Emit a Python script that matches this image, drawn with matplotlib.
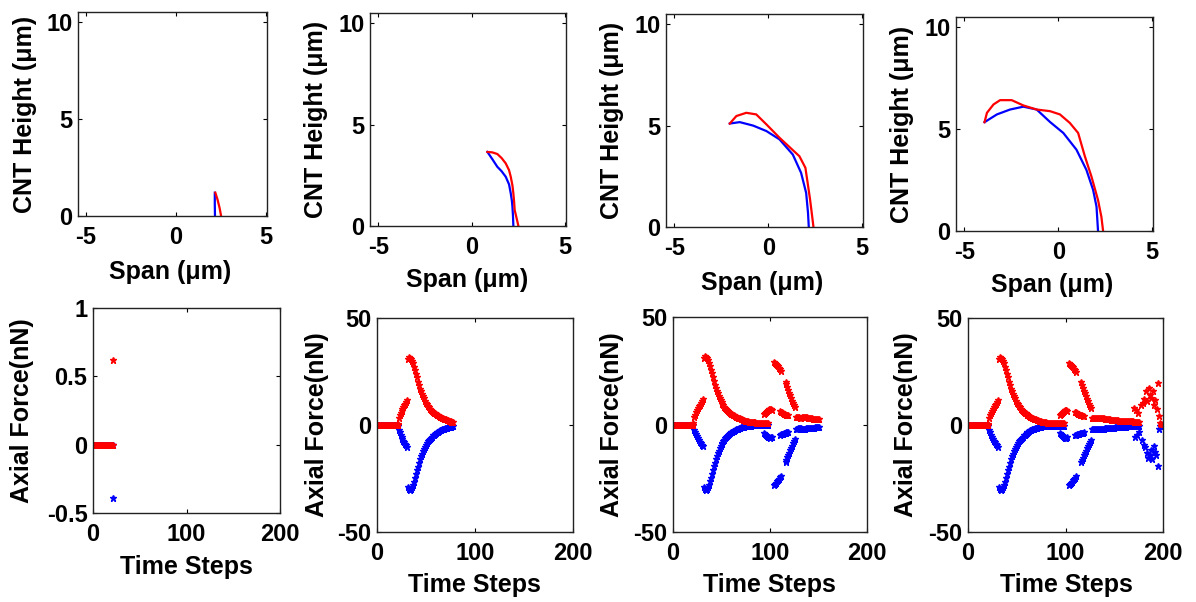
import matplotlib
matplotlib.use("Agg")
import matplotlib.pyplot as plt

plt.rcParams["font.family"] = ["Liberation Sans", "DejaVu Sans"]
plt.rcParams["font.weight"] = "bold"
plt.rcParams["axes.labelweight"] = "bold"
plt.rcParams["axes.unicode_minus"] = False

W, H = 1196, 602

# ---- top row: CNT profile (span, height) at four snapshots ----
span_blue_1 = [2.15, 2.15, 2.16]
height_blue_1 = [1.2, 0.6, 0.0]
span_red_1 = [2.18, 2.3, 2.42, 2.5]
height_red_1 = [1.2, 0.85, 0.4, 0.0]

span_blue_2 = [0.84, 1.1, 1.37, 1.6, 1.82, 2.0, 2.09, 2.15, 2.18, 2.21, 2.23]
height_blue_2 = [3.65, 3.3, 2.92, 2.7, 2.43, 2.05, 1.61, 1.25, 0.95, 0.5, 0.0]
span_red_2 = [0.84, 1.1, 1.37, 1.6, 1.82, 2.0, 2.09, 2.18, 2.23, 2.27, 2.3, 2.4, 2.5]
height_red_2 = [3.65, 3.63, 3.55, 3.35, 3.09, 2.75, 2.43, 2.0, 1.61, 1.2, 0.79, 0.4, 0.0]

span_blue_3 = [-2.05, -1.52, -0.81, -0.1, 0.6, 1.31, 1.75, 2.02, 2.12, 2.16]
height_blue_3 = [5.1, 5.17, 5.0, 4.73, 4.32, 3.57, 2.67, 1.68, 0.69, 0.0]
span_red_3 = [-2.05, -1.7, -1.17, -0.64, -0.1, 0.6, 1.04, 1.66, 1.98, 2.1, 2.23, 2.34, 2.41]
height_red_3 = [5.1, 5.47, 5.63, 5.55, 5.06, 4.4, 4.02, 3.49, 2.92, 2.17, 1.35, 0.53, 0.0]

span_blue_4 = [-3.93, -3.27, -2.57, -1.86, -1.15, -0.44, 0.27, 0.97, 1.5, 1.86, 2.04, 2.12]
height_blue_4 = [5.34, 5.72, 5.96, 6.1, 5.96, 5.35, 4.81, 3.99, 3.0, 2.01, 1.19, 0.0]
span_red_4 = [-3.93, -3.8, -3.45, -3.1, -2.48, -1.86, -1.15, -0.44, 0.09, 0.62, 1.06,
              1.42, 1.77, 2.12, 2.3, 2.39]
height_red_4 = [5.34, 5.8, 6.21, 6.42, 6.42, 6.16, 5.96, 5.88, 5.72, 5.3, 4.81,
                3.66, 2.67, 1.52, 0.69, 0.0]

profiles = [
    (span_blue_1, height_blue_1, span_red_1, height_red_1),
    (span_blue_2, height_blue_2, span_red_2, height_red_2),
    (span_blue_3, height_blue_3, span_red_3, height_red_3),
    (span_blue_4, height_blue_4, span_red_4, height_red_4),
]

# ---- bottom row: axial force vs time step (one history, cut at each snapshot) ----
snapshot_end = [21, 78, 150, 200]

red_steps = (
    list(range(0, 22)) + [21] + list(range(22, 99)) + list(range(94, 103))
    + list(range(104, 112)) + list(range(110, 120)) + list(range(116, 127))
    + list(range(127, 176))
    + [170, 172, 174, 177, 179, 181, 183, 184, 186, 187, 188, 190, 191, 192,
       194, 195, 196, 197, 198, 200]
)
red_force = (
    [0.0] * 22 + [0.62]
    # 22..31
    + [3.5, 4.6, 5.6, 6.6, 7.5, 8.4, 9.2, 10.0, 10.9, 11.8]
    # 32..78
    + [31.0, 31.8, 31.5, 31.0, 30.0, 28.8, 27.2, 25.5, 23.8, 22.2, 20.3, 18.5,
       17.0, 15.7, 14.5, 13.4, 12.4, 11.4, 10.4, 9.6, 8.9, 8.3, 7.7, 7.1, 6.6,
       6.2, 5.8, 5.4, 5.1, 4.8, 4.5, 4.2, 3.9, 3.6, 3.4, 3.2, 3.0, 2.8, 2.6,
       2.4, 2.2, 2.0, 1.8, 1.7, 1.5, 1.4, 1.3]
    # 79..98
    + [1.2, 1.2, 1.1, 1.1, 1.0, 1.0, 1.0, 0.9, 0.9, 0.9, 0.9, 0.8, 0.8, 0.8,
       0.8, 0.8, 0.8, 0.8, 0.8, 0.8]
    # 94..102
    + [4.8, 5.3, 5.8, 6.2, 6.6, 7.0, 7.2, 7.0, 6.6]
    # 104..111
    + [29.0, 28.7, 28.2, 27.6, 27.0, 26.3, 25.6, 24.8]
    # 110..119
    + [6.2, 5.9, 5.6, 5.3, 5.0, 4.8, 4.6, 4.5, 4.4, 4.3]
    # 116..126
    + [20.0, 18.7, 17.4, 16.1, 14.8, 13.5, 12.3, 11.1, 10.0, 9.0, 8.0]
    # 127..175
    + [3.4, 3.4, 3.3, 3.3, 3.2, 3.2, 3.3, 3.4, 3.5, 3.5, 3.4, 3.3, 3.1, 3.0,
       2.9, 2.8, 2.8, 2.7, 2.6, 2.6, 2.5, 2.5, 2.4, 2.4, 2.3, 2.3, 2.2, 2.2,
       2.1, 2.1, 2.0, 2.0, 2.0, 1.9, 1.9, 1.9, 1.8, 1.8, 1.8, 1.7, 1.7, 1.7,
       1.7, 1.6, 1.6, 1.6, 1.6, 1.5, 1.5]
    # scattered end
    + [8.0, 6.8, 5.5, 9.5, 10.5, 12.0, 16.0, 11.0, 17.5, 14.0, 12.5, 15.8, 9.5,
       11.8, 7.5, 19.5, 4.0, 1.0, 0.5, 0.5]
)

blue_steps = (
    list(range(0, 22)) + [21] + list(range(22, 99)) + list(range(94, 103))
    + list(range(104, 112)) + list(range(110, 120)) + list(range(116, 127))
    + list(range(127, 176))
    + [171, 173, 175, 178, 180, 182, 184, 185, 187, 188, 189, 191, 192, 193,
       195, 196, 197, 198, 199, 200]
)
blue_force = (
    [0.0] * 22 + [-0.39]
    # 22..31
    + [-2.5, -3.5, -4.5, -5.5, -6.5, -7.3, -8.0, -8.8, -9.5, -10.2]
    # 32..78
    + [-29.0, -30.0, -30.3, -30.0, -29.2, -28.0, -26.5, -24.8, -23.0, -21.2,
       -19.4, -17.7, -16.1, -14.7, -13.4, -12.2, -11.1, -10.1, -9.2, -8.4,
       -7.7, -7.0, -6.4, -5.9, -5.4, -4.9, -4.5, -4.1, -3.7, -3.4, -3.1, -2.8,
       -2.5, -2.3, -2.1, -1.9, -1.7, -1.5, -1.3, -1.2, -1.1, -1.0, -0.9, -0.8,
       -0.7, -0.6, -0.5]
    # 79..98
    + [-0.5, -0.5, -0.4, -0.4, -0.4, -0.4, -0.3, -0.3, -0.3, -0.3, -0.3, -0.3,
       -0.3, -0.3, -0.3, -0.3, -0.3, -0.3, -0.3, -0.3]
    # 94..102
    + [-3.8, -4.3, -4.8, -5.2, -5.6, -6.0, -6.2, -6.0, -5.6]
    # 104..111
    + [-28.0, -27.6, -27.0, -26.5, -25.8, -25.2, -24.6, -24.0]
    # 110..119
    + [-4.8, -4.6, -4.4, -4.2, -4.0, -3.9, -3.8, -3.7, -3.6, -3.5]
    # 116..126
    + [-17.5, -16.4, -15.3, -14.2, -13.1, -12.0, -10.9, -9.8, -8.8, -7.8, -6.9]
    # 127..175
    + [-1.9, -1.9, -1.8, -1.8, -1.8, -1.8, -1.9, -2.0, -2.0, -1.9, -1.8, -1.7,
       -1.7, -1.6, -1.6, -1.5, -1.5, -1.4, -1.4, -1.3, -1.3, -1.3, -1.2, -1.2,
       -1.1, -1.1, -1.0, -1.0, -1.0, -0.9, -0.9, -0.9, -0.8, -0.8, -0.8, -0.8,
       -0.7, -0.7, -0.7, -0.7, -0.6, -0.6, -0.6, -0.6, -0.5, -0.5, -0.5, -0.5,
       -0.5]
    # scattered end
    + [-5.5, -4.5, -3.5, -7.0, -9.5, -10.5, -13.0, -15.5, -14.0, -11.5, -16.0,
       -10.0, -12.5, -14.0, -19.0, -2.0, -0.5, -0.4, -0.4, -0.3]
)

# axes boxes in pixels (left, right, top, bottom) and label centres (ylabel x, xlabel x, xlabel y)
TOP_BOXES = [(78, 267, 12, 216), (370, 566, 13, 226), (666, 863, 14, 227), (956, 1153, 17, 231)]
TOP_LABELS = [(25, 170, 272), (316, 467, 280), (612, 762, 283), (902, 1052, 285)]
BOTTOM_BOXES = [(93, 280, 308, 513), (377, 573, 318, 532), (673, 867, 317, 532), (968, 1163, 318, 532)]
BOTTOM_LABELS = [(22, 186, 567), (317, 474, 585), (612, 769, 585), (906, 1066, 585)]

FONT = 17


def make_axes(fig, box, labels, xlabel, ylabel):
    left, right, top, bottom = box
    ax = fig.add_axes([left / W, 1 - bottom / H, (right - left) / W, (bottom - top) / H])
    ax.tick_params(direction="in", length=3, width=0.8, top=True, right=True,
                   labelsize=FONT)
    ax.tick_params(axis="x", pad=7)
    ax.tick_params(axis="y", pad=4)
    for spine in ax.spines.values():
        spine.set_linewidth(1.0)
        spine.set_color("#222222")
    yl_x, xl_x, xl_y = labels
    ax.set_xlabel(xlabel, fontsize=FONT + 1, va="center", ha="center")
    ax.set_ylabel(ylabel, fontsize=FONT + 1, va="center", ha="center")
    ax.xaxis.set_label_coords(xl_x / W, 1 - xl_y / H, transform=fig.transFigure)
    ax.yaxis.set_label_coords(yl_x / W, 1 - (top + bottom) / 2 / H,
                              transform=fig.transFigure)
    return ax


fig = plt.figure(figsize=(W / 100, H / 100), dpi=100)

for i, (sb, hb, sr, hr) in enumerate(profiles):
    ax = make_axes(fig, TOP_BOXES[i], TOP_LABELS[i], "Span (\u03bcm)", "CNT Height (\u03bcm)")
    ax.plot(sb, hb, color="b", lw=1.6)
    ax.plot(sr, hr, color="r", lw=1.6)
    ax.set_xlim(-5.45, 5.05)
    ax.set_ylim(0, 10.5)
    ax.set_xticks([-5, 0, 5])
    ax.set_yticks([0, 5, 10])

for i, t_end in enumerate(snapshot_end):
    ax = make_axes(fig, BOTTOM_BOXES[i], BOTTOM_LABELS[i], "Time Steps", "Axial Force(nN)")
    bs = [s for s in blue_steps if s <= t_end]
    bf = [f for s, f in zip(blue_steps, blue_force) if s <= t_end]
    rs = [s for s in red_steps if s <= t_end]
    rf = [f for s, f in zip(red_steps, red_force) if s <= t_end]
    ax.plot(bs, bf, "*", color="b", ms=5, mew=1.0)
    ax.plot(rs, rf, "*", color="r", ms=5, mew=1.0)
    ax.set_xlim(0, 200)
    ax.set_xticks([0, 100, 200])
    if i == 0:
        ax.set_ylim(-0.5, 1)
        ax.set_yticks([-0.5, 0, 0.5, 1])
        ax.set_yticklabels(["-0.5", "0", "0.5", "1"])
    else:
        ax.set_ylim(-50, 50)
        ax.set_yticks([-50, 0, 50])

fig.savefig("out.png", dpi=100)
